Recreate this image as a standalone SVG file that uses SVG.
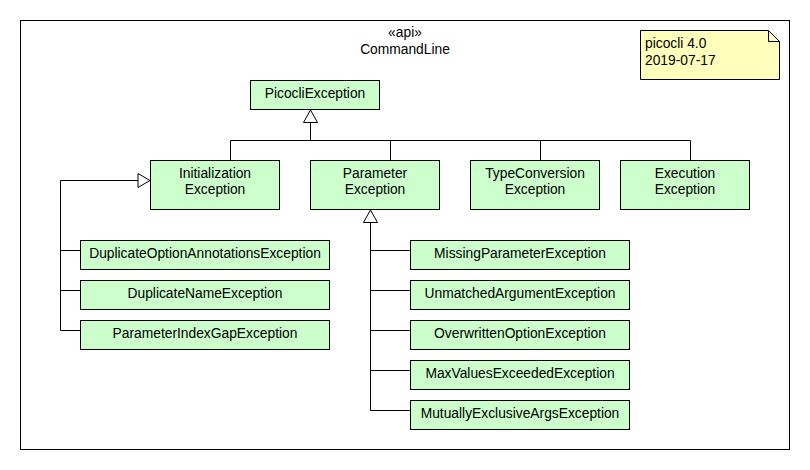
<svg xmlns="http://www.w3.org/2000/svg" width="810" height="470" viewBox="0 0 810 470">
<style>
.box{fill:#CCFFCC;stroke:#000;stroke-width:1}
.t{font-family:"Liberation Sans",Arial,sans-serif;font-size:13.8px;fill:#000;text-anchor:middle}
.tl{font-family:"Liberation Sans",Arial,sans-serif;font-size:13.8px;fill:#000}
.ln{fill:none;stroke:#000;stroke-width:1}
.tri{fill:#fff;stroke:#000;stroke-width:1}
</style>
<rect width="810" height="470" fill="#fff"/>
<g id="frame">
<rect x="20.5" y="20.5" width="769" height="429" fill="#fff" stroke="#000"/>
<text class="t" x="405" y="37">«api»</text>
<text class="t" x="405" y="54">CommandLine</text>
</g>
<g id="note">
<path d="M640.5,30.5 H768.5 L779.5,41.5 V79.5 H640.5 Z" fill="#FFFFBB" stroke="#000"/>
<path d="M768.5,30.5 V41.5 H779.5" class="ln"/>
<text class="tl" x="645" y="48">picocli 4.0</text>
<text class="tl" x="645" y="65">2019-07-17</text>
</g>
<g id="connectors">
<path class="ln" d="M310.5,122 V140.5 M230.5,140.5 H690.5 M230.5,140.5 V160 M390.5,140.5 V160 M540.5,140.5 V160 M690.5,140.5 V160"/>
<polygon class="tri" points="310.5,110 303.5,122.5 317.5,122.5"/>
<path class="ln" d="M138,180.5 H60.5 V330.5 M60.5,250.5 H80 M60.5,290.5 H80 M60.5,330.5 H80"/>
<polygon class="tri" points="150,180.5 138,173.5 138,187.5"/>
<path class="ln" d="M370.5,222.5 V410.5 M370.5,250.5 H410 M370.5,290.5 H410 M370.5,330.5 H410 M370.5,370.5 H410 M370.5,410.5 H410"/>
<polygon class="tri" points="370.5,210 363.5,222.5 377.5,222.5"/>
</g>
<g id="PicocliException"><rect class="box" x="250.5" y="80.5" width="129" height="29"/><text class="t" x="315" y="97.5">PicocliException</text></g>
<g id="InitializationException"><rect class="box" x="150.5" y="160.5" width="129" height="49"/><text class="t" x="215" y="177.5">Initialization</text><text class="t" x="215" y="194">Exception</text></g>
<g id="ParameterException"><rect class="box" x="310.5" y="160.5" width="129" height="49"/><text class="t" x="375" y="177.5">Parameter</text><text class="t" x="375" y="194">Exception</text></g>
<g id="TypeConversionException"><rect class="box" x="470.5" y="160.5" width="129" height="49"/><text class="t" x="535" y="177.5">TypeConversion</text><text class="t" x="535" y="194">Exception</text></g>
<g id="ExecutionException"><rect class="box" x="620.5" y="160.5" width="129" height="49"/><text class="t" x="685" y="177.5">Execution</text><text class="t" x="685" y="194">Exception</text></g>
<g id="DuplicateOptionAnnotationsException"><rect class="box" x="80.5" y="240.5" width="249" height="29"/><text class="t" x="205" y="257.5">DuplicateOptionAnnotationsException</text></g>
<g id="DuplicateNameException"><rect class="box" x="80.5" y="280.5" width="249" height="29"/><text class="t" x="205" y="297.5">DuplicateNameException</text></g>
<g id="ParameterIndexGapException"><rect class="box" x="80.5" y="320.5" width="249" height="29"/><text class="t" x="205" y="337.5">ParameterIndexGapException</text></g>
<g id="MissingParameterException"><rect class="box" x="410.5" y="240.5" width="219" height="29"/><text class="t" x="520" y="257.5">MissingParameterException</text></g>
<g id="UnmatchedArgumentException"><rect class="box" x="410.5" y="280.5" width="219" height="29"/><text class="t" x="520" y="297.5">UnmatchedArgumentException</text></g>
<g id="OverwrittenOptionException"><rect class="box" x="410.5" y="320.5" width="219" height="29"/><text class="t" x="520" y="337.5">OverwrittenOptionException</text></g>
<g id="MaxValuesExceededException"><rect class="box" x="410.5" y="360.5" width="219" height="29"/><text class="t" x="520" y="377.5">MaxValuesExceededException</text></g>
<g id="MutuallyExclusiveArgsException"><rect class="box" x="410.5" y="400.5" width="219" height="29"/><text class="t" x="520" y="417.5">MutuallyExclusiveArgsException</text></g>
</svg>
